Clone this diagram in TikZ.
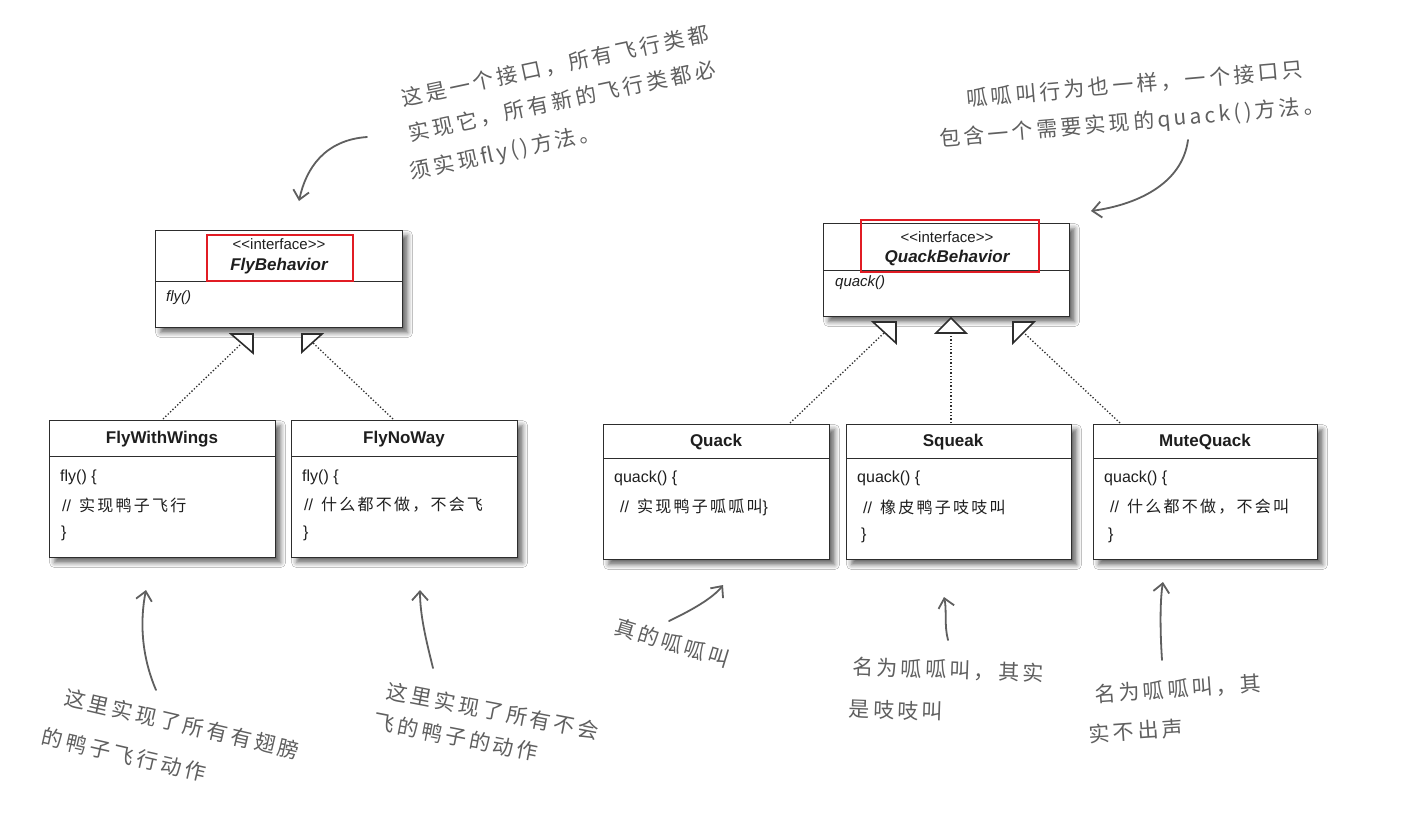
\documentclass[tikz,border=0pt]{standalone}
\usepackage{fontspec}
\setmainfont{Liberation Sans}
\newfontfamily\boxcjk[LetterSpace=14]{Noto Sans CJK SC}
\newfontfamily\hand[LetterSpace=16]{Noto Sans CJK SC}
\usetikzlibrary{arrows.meta,shadows.blur}
\definecolor{umlline}{RGB}{45,45,45}
\definecolor{umltext}{RGB}{30,30,30}
\definecolor{hl}{RGB}{225,28,36}
\definecolor{annot}{RGB}{95,95,95}
\newcommand{\stereotag}{<\kern0pt<interface>\kern0pt>}
\tikzset{
  umlbox/.style={draw=umlline, line width=1.1pt, fill=white, rectangle, inner sep=0pt,
    anchor=north west,
    blur shadow={shadow xshift=5pt, shadow yshift=-5pt, shadow blur radius=5pt,
      shadow opacity=60}},
  umlrule/.style={draw=umlline, line width=0.8pt},
  hlbox/.style={draw=hl, line width=2.4pt, rectangle, inner sep=0pt, anchor=north west},
  stereo/.style={text=umltext, inner sep=0pt, font=\fontsize{15}{17}\selectfont},
  ifname/.style={text=umltext, inner sep=0pt, font=\fontsize{17}{20}\selectfont\bfseries\itshape},
  clsname/.style={text=umltext, inner sep=0pt, font=\fontsize{17}{20}\selectfont\bfseries},
  method/.style={text=umltext, inner sep=0pt, anchor=west, font=\fontsize{15}{17}\selectfont\itshape},
  body/.style={text=umltext, inner sep=0pt, anchor=west, font=\fontsize{16}{19}\selectfont},
  realize/.style={draw=umlline, line width=1.3pt, dotted},
  tri/.style={draw=umlline, line width=1.6pt, fill=white, line join=miter},
  note/.style={text=annot, inner sep=0pt, font=\fontsize{21}{24}\hand},
  handarrow/.style={draw=annot, line width=1.8pt, line cap=round,
    -{Straight Barb[length=9pt,width=16pt,line width=1.8pt]}}
}
\begin{document}
\begin{tikzpicture}[x=1pt,y=-1pt]
\useasboundingbox[fill=white] (0,0) rectangle (1419,812);

% ---------- interfaces ----------
\node[umlbox, minimum width=247, minimum height=97] (fb) at (155,230) {};
\draw[umlrule] (155,281) -- (402,281);
\node[hlbox, minimum width=146, minimum height=46] (fbmark) at (206,234) {};
\node[stereo] (fbst) at (279,244) {\stereotag};
\node[ifname] (fbname) at (279,266) {FlyBehavior};
\node[method] (fbm) at (166,298) {fly()};

\node[umlbox, minimum width=246, minimum height=93] (qb) at (823,223) {};
\draw[umlrule] (823,270) -- (1069,270);
\node[hlbox, minimum width=178, minimum height=52] (qbmark) at (860,219) {};
\node[stereo] (qbst) at (947,237) {\stereotag};
\node[ifname] (qbname) at (947,258) {QuackBehavior};
\node[method] (qbm) at (835,283) {quack()};

% ---------- fly classes ----------
\node[umlbox, minimum width=226, minimum height=137] (fww) at (49,420) {};
\draw[umlrule] (49,456) -- (275,456);
\node[clsname] (fwwname) at (162,439) {FlyWithWings};
\node[body] (fww1) at (60,477) {fly() \{};
\node[body] (fww2) at (62,505) {//\hspace{8pt}{\boxcjk 实现鸭子飞行}};
\node[body] (fww3) at (61,533) {\}};

\node[umlbox, minimum width=226, minimum height=137] (fnw) at (291,420) {};
\draw[umlrule] (291,456) -- (517,456);
\node[clsname] (fnwname) at (404,439) {FlyNoWay};
\node[body] (fnw1) at (302,477) {fly() \{};
\node[body] (fnw2) at (304,505) {//\hspace{8pt}{\boxcjk 什么都不做，不会飞}};
\node[body] (fnw3) at (303,533) {\}};

% ---------- quack classes ----------
\node[umlbox, minimum width=226, minimum height=135] (qk) at (603,424) {};
\draw[umlrule] (603,458) -- (829,458);
\node[clsname] (qkname) at (716,442) {Quack};
\node[body] (qk1) at (614,478) {quack() \{};
\node[body] (qk2) at (620,507) {//\hspace{8pt}{\boxcjk 实现鸭子呱呱叫}\}};

\node[umlbox, minimum width=225, minimum height=135] (sq) at (846,424) {};
\draw[umlrule] (846,458) -- (1071,458);
\node[clsname] (sqname) at (953,442) {Squeak};
\node[body] (sq1) at (857,478) {quack() \{};
\node[body] (sq2) at (863,507) {//\hspace{8pt}{\boxcjk 橡皮鸭子吱吱叫}};
\node[body] (sq3) at (861,535) {\}};

\node[umlbox, minimum width=224, minimum height=135] (mq) at (1093,424) {};
\draw[umlrule] (1093,458) -- (1317,458);
\node[clsname] (mqname) at (1205,442) {MuteQuack};
\node[body] (mq1) at (1104,478) {quack() \{};
\node[body] (mq2) at (1110,507) {//\hspace{8pt}{\boxcjk 什么都不做，不会叫}};
\node[body] (mq3) at (1108,535) {\}};

% ---------- realization connectors ----------
\coordinate (fwwtop) at (163,419);
\coordinate (fnwtop) at (393,419);
\coordinate (qktop) at (790,423);
\coordinate (sqtop) at (951,423);
\coordinate (mqtop) at (1120,423);
\coordinate (t1) at (242,343);
\coordinate (t2) at (312,342);
\coordinate (t3) at (885,332);
\coordinate (t4) at (951,333);
\coordinate (t5) at (1023,332);

\draw[realize] (fwwtop) -- (t1);
\draw[realize] (fnwtop) -- (t2);
\draw[realize] (qktop) -- (t3);
\draw[realize] (sqtop) -- (t4);
\draw[realize] (mqtop) -- (t5);

% hollow heads, partly hidden under the parent box
\draw[tri] (231,334) -- (253,334) -- (253,353) -- cycle;
\draw[tri] (302,334) -- (322,334) -- (302,352) -- cycle;
\draw[tri] (873,322) -- (896,322) -- (896,343) -- cycle;
\draw[tri] (951,318) -- (966,333) -- (936,333) -- cycle;
\draw[tri] (1013,322) -- (1034,322) -- (1013,343) -- cycle;

% ---------- handwritten notes ----------
\node[note, rotate=12] (n1a) at (555,66) {这是一个接口，所有飞行类都};
\node[note, rotate=12] (n1b) at (562,101) {实现它，所有新的飞行类都必};
\node[note, rotate=12] (n1c) at (505,153) {须实现fly()方法。};
\coordinate (a1s) at (367,137);
\coordinate (a1e) at (299,201);
\draw[handarrow] (a1s) .. controls (325,140) and (306,168) .. (a1e);

\node[note, rotate=5] (n2a) at (1135,84) {呱呱叫行为也一样，一个接口只};
\node[note, rotate=5] (n2b) at (1132,123) {包含一个需要实现的quack()方法。};
\coordinate (a2s) at (1188,140);
\coordinate (a2e) at (1091,211);
\draw[handarrow] (a2s) .. controls (1182,185) and (1135,205) .. (a2e);

\node[note, rotate=-13] (n3a) at (182,724) {这里实现了所有有翅膀};
\node[note, rotate=-13] (n3b) at (124,755) {的鸭子飞行动作};
\coordinate (a3s) at (156,690);
\coordinate (a3e) at (146,590);
\draw[handarrow] (a3s) .. controls (141,655) and (140,620) .. (a3e);

\node[note, rotate=-11] (n4a) at (493,711) {这里实现了所有不会};
\node[note, rotate=-11] (n4b) at (456,737) {飞的鸭子的动作};
\coordinate (a4s) at (433,668);
\coordinate (a4e) at (420,590);
\draw[handarrow] (a4s) .. controls (426,640) and (420,615) .. (a4e);

\node[note, rotate=-17] (n5) at (672,643) {真的呱呱叫};
\coordinate (a5s) at (669,621);
\coordinate (a5e) at (723,585);
\draw[handarrow] (a5s) .. controls (692,610) and (713,598) .. (a5e);

\node[note, rotate=-2] (n6a) at (948,670) {名为呱呱叫，其实};
\node[note, rotate=-2] (n6b) at (896,710) {是吱吱叫};
\coordinate (a6s) at (948,640);
\coordinate (a6e) at (944,597);
\draw[handarrow] (a6s) .. controls (944,625) and (947,610) .. (a6e);

\node[note, rotate=4] (n7a) at (1178,689) {名为呱呱叫，其};
\node[note, rotate=4] (n7b) at (1136,731) {实不出声};
\coordinate (a7s) at (1162,660);
\coordinate (a7e) at (1163,582);
\draw[handarrow] (a7s) .. controls (1160,630) and (1160,600) .. (a7e);
\end{tikzpicture}
\end{document}
